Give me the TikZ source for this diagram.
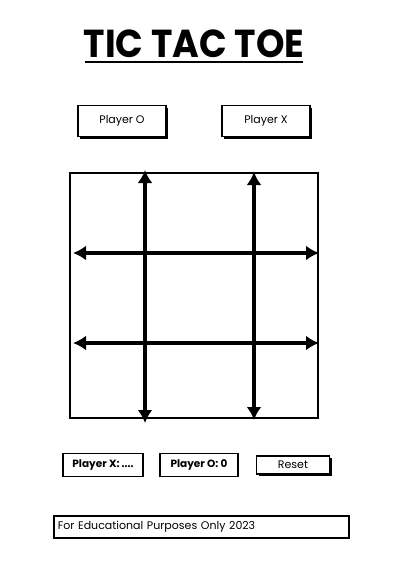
\documentclass[tikz,border=0pt]{standalone}
\usepackage{fontspec}
\setmainfont{Poppins}
\usetikzlibrary{arrows.meta,shadows}

\begin{document}
\begin{tikzpicture}[
  x=1pt, y=-1pt,
  every node/.style={font=\fontsize{11}{12}\selectfont},
  bouton/.style={draw, line width=1.2pt, fill=white, minimum width=88pt, minimum height=31pt,
                 inner sep=0pt, drop shadow={shadow xshift=2pt, shadow yshift=-2pt, fill=black, opacity=1}},
  score/.style={draw, line width=1.6pt, fill=white, minimum height=23pt, inner sep=0pt,
                font=\fontsize{10.5}{12}\selectfont\bfseries},
  trait/.style={line width=3.2pt, {Latex[length=13pt,width=15pt]}-{Latex[length=13pt,width=15pt]}}
]
\useasboundingbox (0,0) rectangle (417,587);

% ---- titre ----
\node[font=\fontsize{39}{40}\selectfont\bfseries, xscale=0.93, inner sep=0pt] (titre) at (194,44) {TIC TAC TOE};
\draw[line width=2pt] (85,62) -- (303,62);

% ---- choix du joueur ----
\node[bouton] (joueurO) at (122,121) {Player O};
\node[bouton] (joueurX) at (266,121) {Player X};

% ---- plateau ----
\node[draw, line width=1.4pt, minimum width=248pt, minimum height=245pt, inner sep=0pt] (plateau) at (194,295.5) {};
\coordinate (v1h) at (145,170);  \coordinate (v1b) at (145,423);
\coordinate (v2h) at (254,172);  \coordinate (v2b) at (254,420);
\coordinate (h1g) at (73,253);   \coordinate (h1d) at (319,253);
\coordinate (h2g) at (73,343);   \coordinate (h2d) at (319,343);
\draw[trait] (v1h) -- (v1b);
\draw[trait] (v2h) -- (v2b);
\draw[trait] (h1g) -- (h1d);
\draw[trait] (h2g) -- (h2d);

% ---- scores ----
\node[score, minimum width=80pt] (scoreX) at (103,465) {Player X: ....};
\node[score, minimum width=78pt] (scoreO) at (199,465) {Player O: 0};
\node[bouton, minimum width=73pt, minimum height=18pt, line width=1.4pt] (reset) at (293,465) {Reset};

% ---- pied de page ----
\node[draw, line width=1.6pt, minimum width=295pt, minimum height=22pt, inner sep=4pt,
      anchor=west, text width=287pt, align=left, font=\fontsize{11}{12}\selectfont] (pied) at (53,527) {For Educational Purposes Only 2023};

\end{tikzpicture}
\end{document}
